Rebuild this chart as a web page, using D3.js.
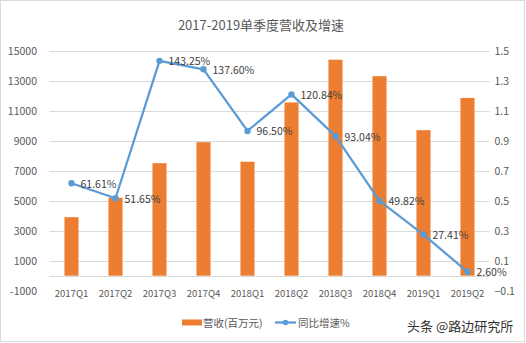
<!DOCTYPE html>
<html>
<head>
<meta charset="utf-8">
<script src="https://cdn.jsdelivr.net/npm/d3@7"></script>
<style>
  html, body { margin: 0; padding: 0; background: #fff; }
  svg { display: block; }
  text { font-family: "Noto Sans CJK SC", "Noto Sans", sans-serif; }
</style>
</head>
<body>
<svg id="chart" width="526" height="343"></svg>
<script>
const categories = ["2017Q1","2017Q2","2017Q3","2017Q4","2018Q1","2018Q2","2018Q3","2018Q4","2019Q1","2019Q2"];
const revenue = [3900, 5200, 7500, 8900, 7600, 11550, 14400, 13300, 9700, 11850];
const growth = [0.6161, 0.5165, 1.4325, 1.3760, 0.9650, 1.2084, 0.9304, 0.4982, 0.2741, 0.0260];
const growthLabels = ["61.61%","51.65%","143.25%","137.60%","96.50%","120.84%","93.04%","49.82%","27.41%","2.60%"];
const leftTicks = [-1000, 1000, 3000, 5000, 7000, 9000, 11000, 13000, 15000];
const rightTicks = [-0.1, 0.1, 0.3, 0.5, 0.7, 0.9, 1.1, 1.3, 1.5];
const title = "2017-2019单季度营收及增速";
const seriesNames = ["营收(百万元)", "同比增速%"];
const watermark = "头条 @路边研究所";

const svg = d3.select("#chart");
const barColor = "#ED7D31", lineColor = "#5B9BD5", gridColor = "#D9D9D9", textColor = "#595959";

svg.append("rect").attr("x", 0.5).attr("y", 0.5).attr("width", 524).attr("height", 341)
  .attr("fill", "#fff").attr("stroke", gridColor);

const x = d3.scaleBand().domain(categories).range([49.5, 489.5]).paddingInner(0.68).paddingOuter(0.34);
const yL = d3.scaleLinear().domain([-1000, 15000]).range([290.7, 50.7]);
const yR = d3.scaleLinear().domain([-0.1, 1.5]).range([290.7, 50.7]);

svg.append("text").attr("x", 261).attr("y", 24).attr("text-anchor", "middle")
  .attr("dominant-baseline", "central").attr("font-size", 13).attr("fill", textColor).text(title);

// gridlines
const gridVals = leftTicks.filter(v => v > -1000).concat([0]);
svg.append("g").selectAll("line").data(gridVals).join("line")
  .attr("x1", 49.5).attr("x2", 489.5)
  .attr("y1", d => Math.round(yL(d)) + 0.5).attr("y2", d => Math.round(yL(d)) + 0.5)
  .attr("stroke", gridColor).attr("stroke-width", 1);

// left axis labels
svg.append("g").selectAll("text").data(leftTicks).join("text")
  .attr("x", 37).attr("y", d => yL(d)).attr("text-anchor", "end").attr("dominant-baseline", "central")
  .attr("font-size", 10.5).attr("fill", textColor).text(d => d);

// right axis labels
svg.append("g").selectAll("text").data(rightTicks).join("text")
  .attr("x", 494.5).attr("y", d => yR(d)).attr("text-anchor", "start").attr("dominant-baseline", "central")
  .attr("font-size", 10.5).attr("fill", textColor).text(d => d3.format(".1f")(d));

// x labels
svg.append("g").selectAll("text").data(categories).join("text")
  .attr("x", d => x(d) + x.bandwidth() / 2).attr("y", 293).attr("text-anchor", "middle")
  .attr("dominant-baseline", "central").attr("font-size", 9.6).attr("fill", textColor).text(d => d);

// bars
svg.append("g").selectAll("rect").data(categories).join("rect")
  .attr("x", d => x(d)).attr("width", x.bandwidth())
  .attr("y", (d, i) => yL(revenue[i])).attr("height", (d, i) => yL(0) - yL(revenue[i]))
  .attr("fill", barColor);

// line
const pts = categories.map((c, i) => [x(c) + x.bandwidth() / 2, yR(growth[i])]);
svg.append("path").attr("d", d3.line()(pts)).attr("fill", "none")
  .attr("stroke", lineColor).attr("stroke-width", 2.25).attr("stroke-linejoin", "round");
svg.append("g").selectAll("circle").data(pts).join("circle")
  .attr("cx", d => d[0]).attr("cy", d => d[1]).attr("r", 3.2).attr("fill", lineColor);

// data labels
svg.append("g").selectAll("text").data(pts).join("text")
  .attr("x", d => d[0] + 9).attr("y", d => d[1]).attr("dominant-baseline", "central")
  .attr("font-size", 10.5).attr("fill", "#404040").text((d, i) => growthLabels[i]);

// legend
const lg = svg.append("g");
lg.append("rect").attr("x", 182).attr("y", 319.5).attr("width", 20).attr("height", 6).attr("fill", barColor);
lg.append("text").attr("x", 203).attr("y", 322.5).attr("dominant-baseline", "central")
  .attr("font-size", 10.5).attr("fill", textColor).text(seriesNames[0]);
lg.append("line").attr("x1", 275).attr("x2", 296).attr("y1", 322.5).attr("y2", 322.5)
  .attr("stroke", lineColor).attr("stroke-width", 2.25);
lg.append("circle").attr("cx", 285.5).attr("cy", 322.5).attr("r", 2.8).attr("fill", lineColor);
lg.append("text").attr("x", 298).attr("y", 322.5).attr("dominant-baseline", "central")
  .attr("font-size", 10.5).attr("fill", textColor).text(seriesNames[1]);

svg.append("text").attr("x", 407).attr("y", 325).attr("dominant-baseline", "central")
  .attr("font-size", 13).attr("fill", "#333").text(watermark);
</script>
</body>
</html>
